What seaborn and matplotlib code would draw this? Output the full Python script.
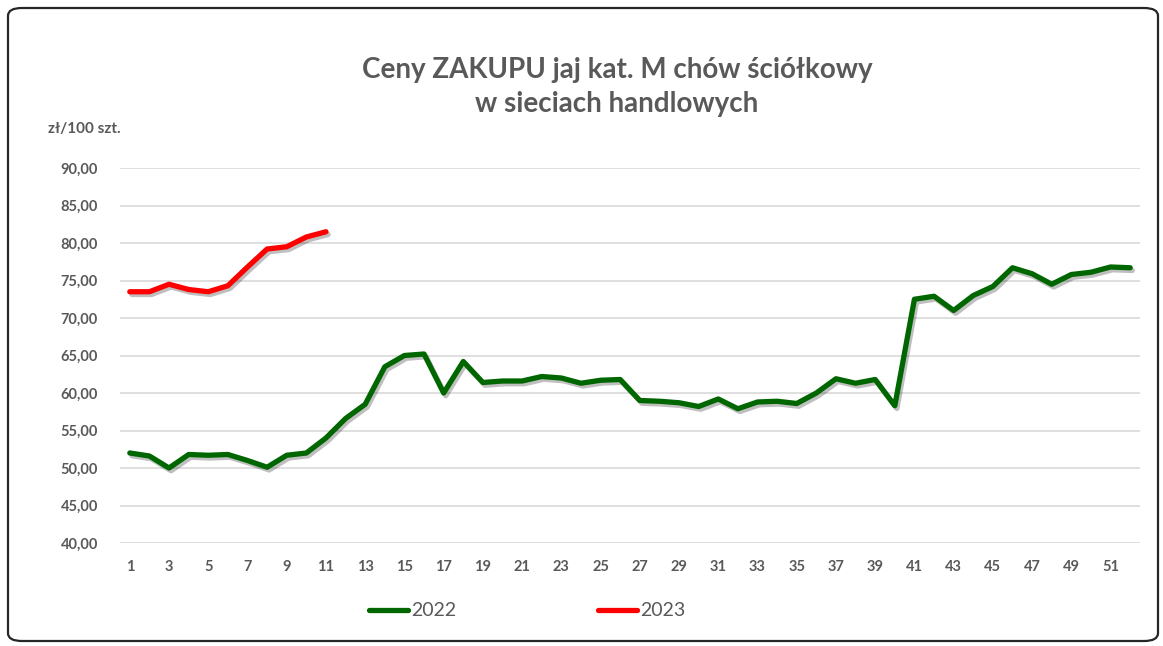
import numpy as np
import pandas as pd
import matplotlib
matplotlib.use("Agg")
import matplotlib.pyplot as plt
import matplotlib.patheffects as pe
from matplotlib.patches import FancyBboxPatch
import seaborn as sns

# ---- data ----
weeks_2022 = list(range(1, 53))
price_2022 = [52.0, 51.6, 50.0, 51.8, 51.7, 51.8, 51.0, 50.1, 51.7, 52.0,
              54.0, 56.6, 58.5, 63.5, 65.0, 65.2, 60.0, 64.2, 61.4, 61.6,
              61.6, 62.2, 62.0, 61.3, 61.7, 61.8, 59.0, 58.9, 58.7, 58.2,
              59.2, 57.9, 58.8, 58.9, 58.6, 60.0, 61.9, 61.3, 61.8, 58.3,
              72.5, 72.9, 71.0, 73.0, 74.2, 76.7, 75.9, 74.5, 75.8, 76.1,
              76.8, 76.7]
weeks_2023 = list(range(1, 12))
price_2023 = [73.5, 73.5, 74.5, 73.8, 73.5, 74.3, 76.8, 79.2, 79.5, 80.8, 81.5]

series_names = ["2022", "2023"]
x_ticks = list(range(1, 52, 2))
y_ticks = [40, 45, 50, 55, 60, 65, 70, 75, 80, 85, 90]
y_tick_labels = [f"{v:.2f}".replace(".", ",") for v in y_ticks]
title = "Ceny ZAKUPU jaj kat. M chów ściółkowy\nw sieciach handlowych"
unit_label = "zł/100 szt."

df = pd.concat([
    pd.DataFrame({"week": weeks_2022, "price": price_2022, "year": series_names[0]}),
    pd.DataFrame({"week": weeks_2023, "price": price_2023, "year": series_names[1]}),
])

sns.set_theme(style="white")
plt.rcParams["font.family"] = ["Lato", "DejaVu Sans"]

W, H = 1163, 646
fig = plt.figure(figsize=(W / 100, H / 100), dpi=100)
fig.patch.set_facecolor("white")

# rounded frame
frame = FancyBboxPatch((8 / W, 5 / H), 1150 / W, 633 / H,
                       boxstyle="round,pad=0,rounding_size=0.012",
                       transform=fig.transFigure, facecolor="none",
                       edgecolor="#262626", linewidth=1.6, zorder=-1)
fig.patches.append(frame)

ax = fig.add_axes([120 / W, 1 - 543 / H, 1020 / W, 375 / H])
ax.set_facecolor("none")

palette = {"2022": "#006600", "2023": "#ff0000"}
sns.lineplot(data=df, x="week", y="price", hue="year", palette=palette,
             linewidth=3.8, ax=ax, legend=True, sort=True,
             estimator=None)
for ln in ax.lines:
    ln.set_solid_capstyle("round")
    ln.set_solid_joinstyle("round")
    ln.set_path_effects([pe.SimpleLineShadow(offset=(1.5, -2), alpha=0.25, shadow_color="black"),
                         pe.Normal()])
    ln.set_zorder(3)

ax.set_xlim(0.5, 52.5)
ax.set_ylim(40, 90)
ax.set_yticks(y_ticks)
ax.set_yticklabels(y_tick_labels)
ax.set_xticks(x_ticks)
ax.set_xticklabels([str(t) for t in x_ticks])
ax.grid(axis="y", color="#d9d9d9", linewidth=1.2)
ax.grid(axis="x", visible=False)
for s in ax.spines.values():
    s.set_visible(False)
ax.tick_params(axis="both", length=0, labelsize=10.5, labelcolor="#595959")
ax.tick_params(axis="y", pad=16)
ax.tick_params(axis="x", pad=12)
for lab in ax.get_xticklabels() + ax.get_yticklabels():
    lab.set_fontweight("bold")
ax.set_xlabel("")
ax.set_ylabel("")

# legend
handles, labels = ax.get_legend_handles_labels()
leg = ax.legend(handles, labels, loc="center", bbox_to_anchor=(407 / 1020, -68 / 375),
                ncol=2, frameon=False, fontsize=14, handlelength=2.0,
                handletextpad=0.15, columnspacing=7.3, labelcolor="#595959")
for h in leg.get_lines():
    h.set_linewidth(3.8)
    h.set_solid_capstyle("round")
    h.set_path_effects([])

fig.text(617 / W, 1 - 87 / H, title, ha="center", va="center", fontsize=20,
         fontweight="bold", color="#595959", linespacing=1.35)
fig.text(48 / W, 1 - 129 / H, unit_label, ha="left", va="center", fontsize=11,
         fontweight="bold", color="#595959")

fig.savefig("out.png", dpi=100, facecolor="white")
